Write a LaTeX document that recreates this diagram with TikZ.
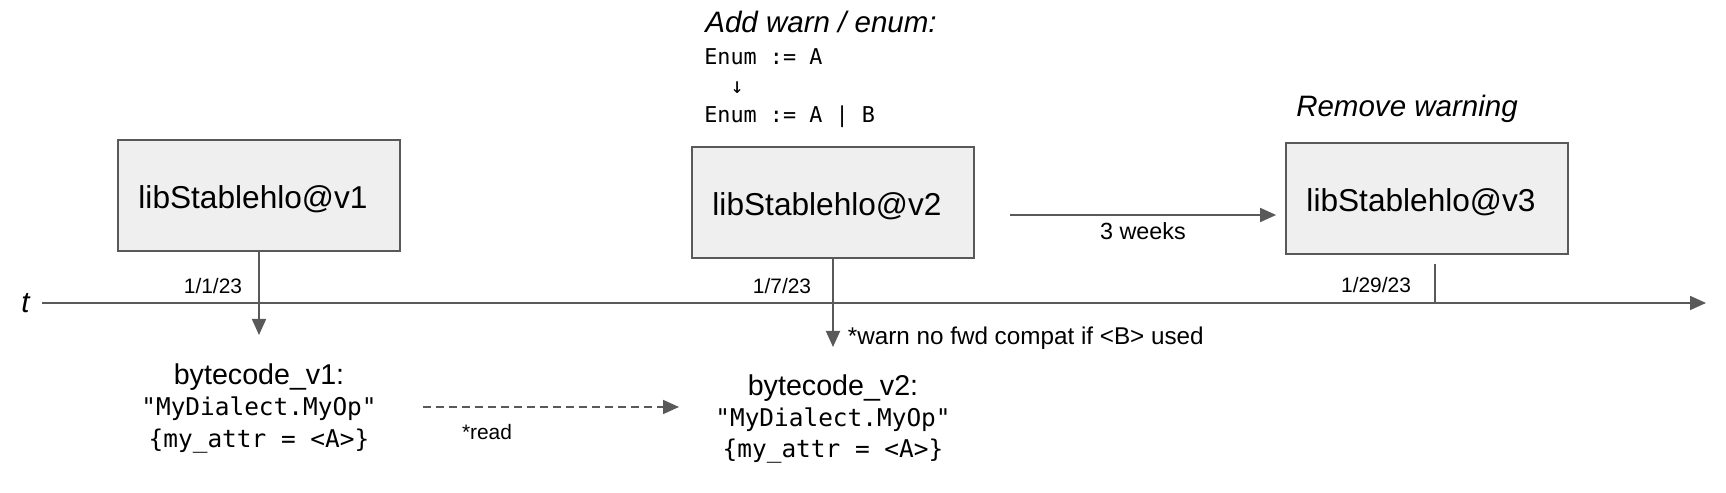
\documentclass[tikz,border=0pt]{standalone}
\usepackage{fontspec}
\setmainfont{Liberation Sans}
\setmonofont{DejaVu Sans Mono}
\usetikzlibrary{arrows.meta,positioning}

\definecolor{edgegray}{HTML}{595959}
\definecolor{boxgray}{HTML}{EFEFEF}

\tikzset{
    libbox/.style={draw=edgegray, fill=boxgray, line width=1pt, minimum width=5.64cm, minimum height=2.22cm, text height=0.64cm, text depth=0.13cm, font=\fontsize{18}{22}\selectfont},
    arrowline/.style={draw=edgegray, line width=1pt, -{Triangle[length=0.32cm,width=0.28cm]}},
    datelabel/.style={font=\fontsize{11.9}{14}\selectfont},
    notelabel/.style={font=\fontsize{16.8}{20}\selectfont\itshape},
    codeblock/.style={align=center, inner sep=0pt, font=\fontsize{13.9}{17.8}\selectfont\ttfamily},
}

\begin{document}
\begin{tikzpicture}
    \useasboundingbox (0,0) rectangle (34.52,9.84);

    \node[libbox] (v1) at (5.18,5.93) {libStablehlo@v1\kern0.24cm};
    \node[libbox] (v2) at (16.66,5.79) {libStablehlo@v2\kern0.24cm};
    \node[libbox] (v3) at (28.54,5.87) {libStablehlo@v3\kern0.24cm};

    \node[notelabel, anchor=west, inner sep=0pt] (addwarn) at (14.10,9.40) {Add warn / enum:};
    \node[anchor=north west, inner sep=0pt, align=left, font=\fontsize{12.4}{16.5}\selectfont\ttfamily] (enum) at (14.08,8.87) {Enum := A\\\phantom{En}↓\\Enum := A | B};
    \node[notelabel] (rmwarn) at (28.14,7.66) {Remove warning};

    % time axis
    \node[notelabel] (tlabel) at (0.51,3.78) {t};
    \coordinate (tstart) at (0.84,3.78);
    \coordinate (tend) at (34.12,3.78);
    \draw[arrowline] (tstart) -- (tend);
    \coordinate (tick) at (28.70,3.78);
    \draw[draw=edgegray, line width=1pt] (tick) -- ++(0,0.78);

    \node[datelabel] (d1) at (4.26,4.12) {1/1/23};
    \node[datelabel] (d2) at (15.64,4.12) {1/7/23};
    \node[datelabel] (d3) at (27.52,4.14) {1/29/23};

    \coordinate (v1tip) at (5.18,3.14);
    \coordinate (v2tip) at (16.66,2.90);
    \draw[arrowline] (v1.south) -- (v1tip);
    \draw[arrowline] (v2.south) -- (v2tip);
    \node[anchor=west, inner sep=0pt, font=\fontsize{13.8}{16}\selectfont] (warn) at (16.95,3.08) {*warn no fwd compat if <B> used};

    \coordinate (wkstart) at (20.20,5.54);
    \draw[arrowline, shorten >=0.18cm] (wkstart) -- (wkstart -| v3.west);
    \node[font=\fontsize{13.3}{16}\selectfont] (weeks) at (22.86,5.22) {3 weeks};

    % bytecode
    \node[codeblock, anchor=north] (bc1) at (5.18,2.57) {{\rmfamily\fontsize{16.3}{17.8}\selectfont bytecode\_v1:}\\"MyDialect.MyOp"\\\{my\_attr = <A>\}};
    \node[codeblock, anchor=north] (bc2) at (16.66,2.36) {{\rmfamily\fontsize{16.3}{17.8}\selectfont bytecode\_v2:}\\"MyDialect.MyOp"\\\{my\_attr = <A>\}};

    \coordinate (readstart) at (8.46,1.70);
    \draw[arrowline, dash pattern=on 0.16cm off 0.1cm, shorten >=0.72cm] (readstart) -- (readstart -| bc2.west);
    \node[datelabel] (read) at (9.74,1.20) {*read};

\end{tikzpicture}
\end{document}
